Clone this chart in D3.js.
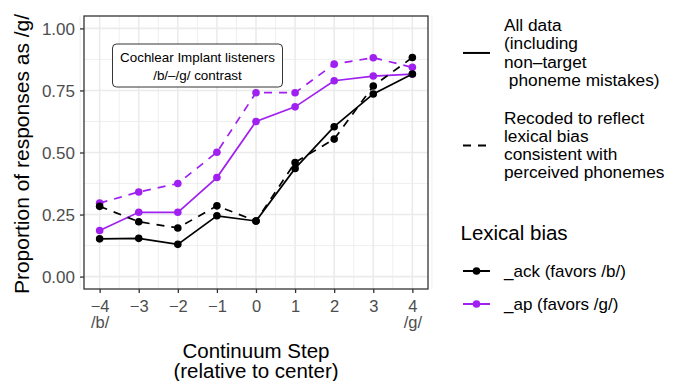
<!DOCTYPE html>
<html>
<head>
<meta charset="utf-8">
<script src="https://cdn.jsdelivr.net/npm/d3@7"></script>
<style>
  body { margin: 0; background: #fff; }
  svg { display: block; font-family: "Liberation Sans", Arial, Helvetica, sans-serif; }
</style>
</head>
<body>
<svg id="chart" width="680" height="381"></svg>
<script>
// values
const steps = [-4, -3, -2, -1, 0, 1, 2, 3, 4];
const stepLabels = ['−4\n/b/', '−3', '−2', '−1', '0', '1', '2', '3', '4\n/g/'];
const yTicks = [0, 0.25, 0.5, 0.75, 1];
const ackAll = [0.152, 0.154, 0.130, 0.245, 0.224, 0.436, 0.604, 0.736, 0.816];
const ackRecoded = [0.283, 0.221, 0.196, 0.285, 0.224, 0.460, 0.554, 0.768, 0.883];
const apAll = [0.186, 0.259, 0.259, 0.399, 0.625, 0.684, 0.789, 0.808, 0.816];
const apRecoded = [0.296, 0.341, 0.375, 0.501, 0.741, 0.741, 0.856, 0.882, 0.843];
const biasLabels = ['_ack (favors /b/)', '_ap (favors /g/)'];
const biasColors = ['#000000', '#A020F0'];
const typeLabels = [['All data', '(including', 'non–target', ' phoneme mistakes)'],
                    ['Recoded to reflect', 'lexical bias', 'consistent with', 'perceived phonemes']];

const svg = d3.select('#chart');
const P = { l: 84, r: 428, t: 16, b: 289 };
const x = d3.scaleLinear().domain([-4.4, 4.4]).range([P.l, P.r]);
const y = d3.scaleLinear().domain([-0.05, 1.05]).range([P.b, P.t]);
const DASH = '8,7';

// grid
const grid = svg.append('g');
const minorX = d3.range(-4.5, 4.6, 1), minorY = d3.range(0.125, 1, 0.25);
grid.selectAll('.mx').data(minorX).join('line').attr('class', 'mx').attr('x1', d => x(d)).attr('x2', d => x(d)).attr('y1', P.t).attr('y2', P.b)
  .attr('stroke', '#EBEBEB').attr('stroke-width', 0.8);
grid.selectAll('.my').data(minorY).join('line').attr('class', 'my').attr('y1', d => y(d)).attr('y2', d => y(d)).attr('x1', P.l).attr('x2', P.r)
  .attr('stroke', '#EBEBEB').attr('stroke-width', 0.8);
grid.selectAll('.gx').data(steps).join('line').attr('class', 'gx').attr('x1', d => x(d)).attr('x2', d => x(d)).attr('y1', P.t).attr('y2', P.b)
  .attr('stroke', '#EBEBEB').attr('stroke-width', 1.6);
grid.selectAll('.gy').data(yTicks).join('line').attr('class', 'gy').attr('y1', d => y(d)).attr('y2', d => y(d)).attr('x1', P.l).attr('x2', P.r)
  .attr('stroke', '#EBEBEB').attr('stroke-width', 1.6);

// annotation box
const ann = svg.append('g');
ann.append('rect').attr('x', 112.5).attr('y', 44).attr('width', 170).attr('height', 43).attr('rx', 4)
  .attr('fill', '#fff').attr('stroke', '#000').attr('stroke-width', 0.8);
ann.append('text').attr('x', 197.5).attr('y', 61.5).attr('text-anchor', 'middle').attr('font-size', 13.4).text('Cochlear Implant listeners');
ann.append('text').attr('x', 197.5).attr('y', 80).attr('text-anchor', 'middle').attr('font-size', 13.4).text('/b/–/g/ contrast');

// series: purple first, black on top
const series = [
  { vals: apRecoded, color: biasColors[1], dash: DASH },
  { vals: apAll, color: biasColors[1], dash: null },
  { vals: ackRecoded, color: biasColors[0], dash: DASH },
  { vals: ackAll, color: biasColors[0], dash: null }
];
const line = d3.line().x((d, i) => x(steps[i])).y(d => y(d));
const marks = svg.append('g');
series.forEach(s => {
  marks.append('path').attr('d', line(s.vals)).attr('fill', 'none').attr('stroke', s.color)
    .attr('stroke-width', 1.7).attr('stroke-dasharray', s.dash);
});
series.forEach(s => {
  marks.append('g').selectAll('circle').data(s.vals).join('circle')
    .attr('cx', (d, i) => x(steps[i])).attr('cy', d => y(d)).attr('r', 3.8).attr('fill', s.color);
});

// panel border
svg.append('rect').attr('x', P.l).attr('y', P.t).attr('width', P.r - P.l).attr('height', P.b - P.t)
  .attr('fill', 'none').attr('stroke', '#333').attr('stroke-width', 1.3);

// axes
const xAxis = svg.append('g').attr('transform', `translate(0,${P.b})`)
  .call(d3.axisBottom(x).tickValues(steps).tickSize(4).tickFormat(''));
const yAxis = svg.append('g').attr('transform', `translate(${P.l},0)`)
  .call(d3.axisLeft(y).tickValues(yTicks).tickSize(4).tickFormat(d3.format('.2f')));
[xAxis, yAxis].forEach(a => {
  a.select('.domain').remove();
  a.selectAll('.tick line').attr('stroke', '#333').attr('stroke-width', 1.3);
});
yAxis.selectAll('.tick text').attr('fill', '#4D4D4D').attr('font-size', 17).attr('x', -9).attr('dy', '0.36em')
  .attr('font-family', null);
xAxis.selectAll('.tick').each(function(d, i) {
  const t = d3.select(this).select('text').attr('fill', '#4D4D4D').attr('font-size', 16.5).attr('y', 0).attr('dy', null)
    .attr('font-family', null);
  stepLabels[i].split('\n').forEach((s, k) => t.append('tspan').attr('x', 0).attr('y', 22.5 + k * 16).text(s));
});

// axis titles
svg.append('text').attr('x', (P.l + P.r) / 2).attr('y', 357.5).attr('text-anchor', 'middle').attr('font-size', 20.5).text('Continuum Step');
svg.append('text').attr('x', (P.l + P.r) / 2).attr('y', 377.5).attr('text-anchor', 'middle').attr('font-size', 20.5).text('(relative to center)');
svg.append('text').attr('transform', `translate(29,154) rotate(-90)`).attr('text-anchor', 'middle')
  .attr('font-size', 21).text('Proportion of responses as /g/');

// legend: line type
const leg = svg.append('g');
const typeBase = [31, 123.5];
typeLabels.forEach((lines, j) => {
  const keyY = typeBase[j] + 1.5 * 18.3 - 5.5;
  leg.append('line').attr('x1', 463).attr('x2', 490).attr('y1', keyY).attr('y2', keyY)
    .attr('stroke', '#000').attr('stroke-width', 2).attr('stroke-dasharray', j ? DASH : null);
  lines.forEach((s, k) => leg.append('text').attr('x', 504).attr('y', typeBase[j] + k * 18.3)
    .attr('font-size', 17.3).style('white-space', 'pre').text(s));
});

// legend: lexical bias
leg.append('text').attr('x', 460.5).attr('y', 240).attr('font-size', 20.5).text('Lexical bias');
biasLabels.forEach((s, j) => {
  const ky = 271 + j * 33;
  leg.append('line').attr('x1', 463).attr('x2', 490).attr('y1', ky).attr('y2', ky).attr('stroke', biasColors[j]).attr('stroke-width', 2);
  leg.append('circle').attr('cx', 476.5).attr('cy', ky).attr('r', 3.8).attr('fill', biasColors[j]);
  leg.append('text').attr('x', 504).attr('y', ky + 6).attr('font-size', 17).text(s);
});
</script>
</body>
</html>
